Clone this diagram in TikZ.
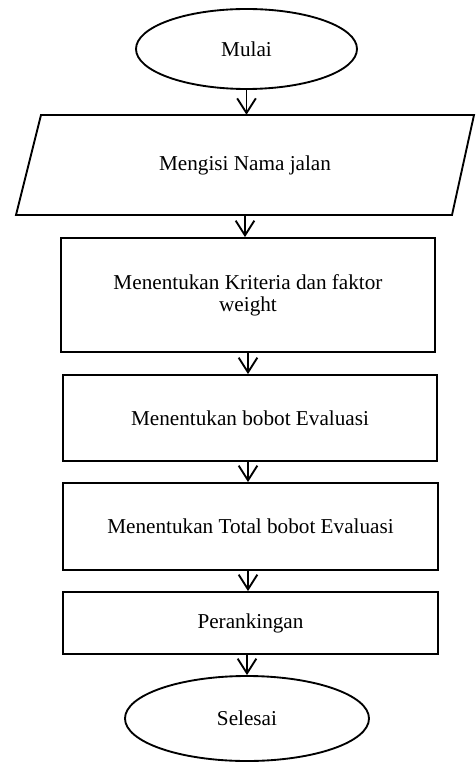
\documentclass[tikz,border=0pt]{standalone}
\usepackage{fontspec}
\setmainfont{Liberation Serif}
\usetikzlibrary{shapes.geometric,arrows.meta}
\begin{document}
\begin{tikzpicture}[x=0.75pt,y=-0.75pt,
  every node/.style={font=\fontsize{15.9}{16.4}\selectfont},
  lw/.style={line width=1.4pt},
  termbox/.style={ellipse,draw,lw,inner sep=0pt},
  procbox/.style={rectangle,draw,lw,inner sep=0pt,align=center},
  arr/.style={lw,-{Straight Barb[length=11pt,width=14pt]}}]
\useasboundingbox (0,0) rectangle (475,762);
% terminal start
\node[termbox,minimum width={221*0.75pt},minimum height={80*0.75pt}] (mulai) at (246.5,49) {Mulai};
% input parallelogram
\node[inner sep=0pt,minimum width={436*0.75pt},minimum height={100*0.75pt}] (input) at (245,165) {Mengisi Nama jalan};
\draw[lw,line join=miter] (41,115) -- (474,115) -- (452,215) -- (16,215) -- cycle;
% processes
\node[procbox,minimum width={374*0.75pt},minimum height={114*0.75pt}] (kriteria) at (248,295) {Menentukan Kriteria dan faktor\\weight};
\node[procbox,minimum width={374*0.75pt},minimum height={86*0.75pt}] (bobot) at (250,418) {Menentukan bobot Evaluasi};
\node[procbox,minimum width={375*0.75pt},minimum height={87*0.75pt}] (total) at (250.5,526.5) {Menentukan Total bobot Evaluasi};
\node[procbox,minimum width={375*0.75pt},minimum height={62*0.75pt}] (rank) at (250.5,623) {Perankingan};
% terminal end
\node[termbox,minimum width={244*0.75pt},minimum height={85*0.75pt}] (selesai) at (247,718.5) {Selesai};
% connectors
\coordinate (inTop) at (input.north);
\draw[arr] (mulai.south) -- (mulai.south |- inTop);
\draw[arr] (input.south) -- (input.south |- kriteria.north);
\draw[arr] (kriteria.south) -- (kriteria.south |- bobot.north);
\draw[arr] (bobot.south -| kriteria.south) -- (kriteria.south |- total.north);
\draw[arr] (total.south -| kriteria.south) -- (kriteria.south |- rank.north);
\draw[arr] (rank.south -| selesai.north) -- (selesai.north);
\end{tikzpicture}
\end{document}
